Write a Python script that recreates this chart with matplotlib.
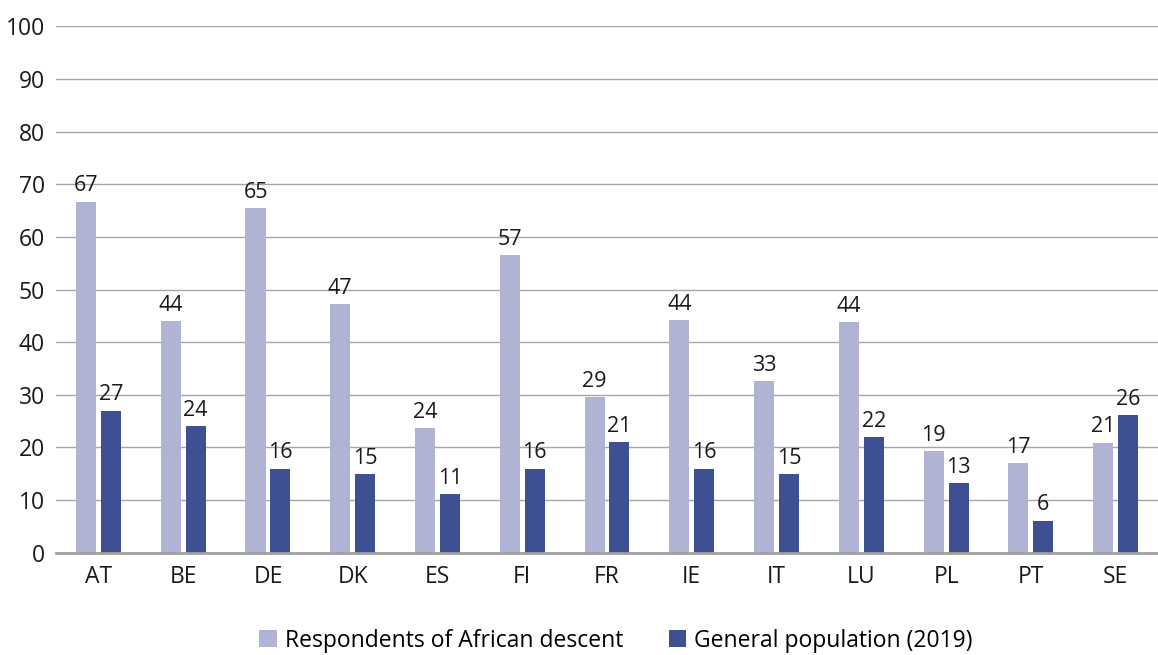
import numpy as np
import matplotlib.pyplot as plt

plt.rcParams['font.family'] = ['Open Sans', 'DejaVu Sans']

# Data
countries = ['AT', 'BE', 'DE', 'DK', 'ES', 'FI', 'FR', 'IE', 'IT', 'LU', 'PL', 'PT', 'SE']
african = [66.7, 44.0, 65.5, 47.2, 23.7, 56.5, 29.5, 44.2, 32.6, 43.8, 19.3, 17.1, 20.9]
general = [27.0, 24.0, 16.0, 15.0, 11.2, 16.0, 21.0, 16.0, 15.0, 22.0, 13.3, 6.1, 26.2]
african_lbl = [67, 44, 65, 47, 24, 57, 29, 44, 33, 44, 19, 17, 21]
general_lbl = [27, 24, 16, 15, 11, 16, 21, 16, 15, 22, 13, 6, 26]
labels_series = ['Respondents of African descent', 'General population (2019)']

c_light = '#b1b3d4'
c_dark = '#3d5192'

fig = plt.figure(figsize=(11.58, 6.55), dpi=100)
ax = fig.add_axes([0.0484, 0.156, 0.9516, 0.804])

x = np.arange(len(countries))
w = 0.236
off = 0.147
b1 = ax.bar(x - off, african, w, color=c_light, label=labels_series[0], zorder=3)
b2 = ax.bar(x + off, general, w, color=c_dark, label=labels_series[1], zorder=3)

for bars, vals, lbls in ((b1, african, african_lbl), (b2, general, general_lbl)):
    for r, v, t in zip(bars, vals, lbls):
        ax.text(r.get_x() + r.get_width() / 2, v + 1.0, str(t),
                ha='center', va='bottom', fontsize=15.5, color='#1a1a1a', zorder=4)

ax.set_ylim(0, 100)
ax.set_xlim(-0.5, len(countries) - 0.5)
ax.set_yticks(range(0, 101, 10))
ax.set_xticks(x)
ax.set_xticklabels(countries)
ax.tick_params(axis='both', length=0, labelsize=16.5, colors='#1a1a1a')
ax.tick_params(axis='y', pad=8)
ax.tick_params(axis='x', pad=9)
ax.yaxis.grid(True, color='#a6a6a6', linewidth=1, zorder=0)
for s in ['top', 'right', 'left']:
    ax.spines[s].set_visible(False)
ax.spines['bottom'].set_color('#a0a0a0')
ax.spines['bottom'].set_linewidth(2)
ax.spines['bottom'].set_zorder(5)

leg = fig.legend(loc='lower center', bbox_to_anchor=(0.532, 0.0), ncol=2, frameon=False,
                 fontsize=16.5, handlelength=0.75, handleheight=0.75, handletextpad=0.35,
                 columnspacing=2.0, borderaxespad=0.0, borderpad=0.1)

fig.savefig('out.png', dpi=100)
